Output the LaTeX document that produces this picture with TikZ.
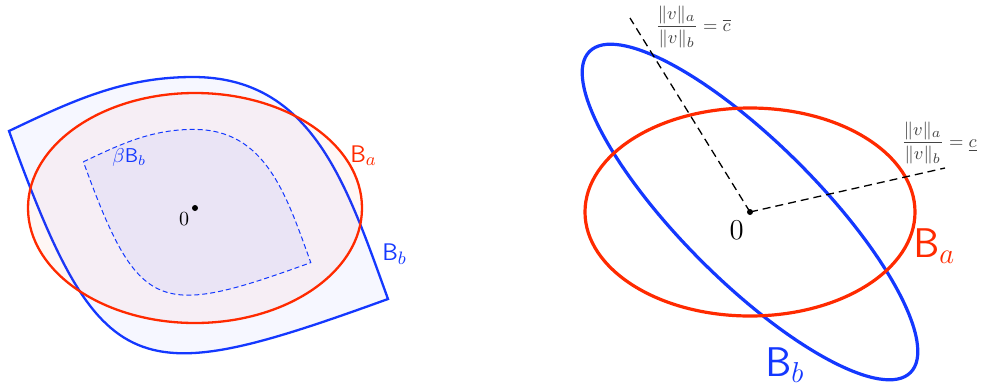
\documentclass[tikz,border=0pt]{standalone}
\usepackage{tikz}
\usetikzlibrary{positioning}
\definecolor{ballred}{HTML}{FF2A00}
\definecolor{ballblue}{HTML}{1438FF}
\definecolor{labelgray}{HTML}{444444}

% unit ball B_b, drawn round its own origin
\newcommand{\ballbpath}{(-186,77) .. controls (-123,107) and (-72,131) .. (-2,131)
  .. controls (118,131) and (152,22) .. (193,-91)
  .. controls (-61,-183) and (-94,-177) .. (-186,77) -- cycle}

\begin{document}
\begin{tikzpicture}[
  x=0.5pt, y=0.5pt,
  ballb/.style={draw=ballblue, line width=1.15pt},
  balla/.style={draw=ballred, line width=1.15pt},
  thickball/.style={line width=1.6pt},
  ray/.style={dash pattern=on 4pt off 2.5pt, line width=0.65pt},
  dot/.style={circle, fill=black, inner sep=0pt, minimum size=3pt},
  lbl/.style={inner sep=0pt, anchor=base west},
  smallsf/.style={font=\fontsize{13}{15}\selectfont},
  bigsf/.style={font=\fontsize{19.5}{23}\selectfont},
  ratio/.style={inner sep=0pt, anchor=west, text=labelgray, font=\fontsize{9.5}{11}\selectfont}
]
\useasboundingbox (0,0) rectangle (981,388);

% left: general norms
\begin{scope}[shift={(195,180)}]
  \path[ballb, fill=ballblue!4] \ballbpath;
\end{scope}
\draw[balla, fill=ballred, fill opacity=0.04] (195,180) ellipse [x radius=167, y radius=115];
\begin{scope}[shift={(195,180)}, scale=0.6]
  \path[draw=ballblue, line width=0.5pt, dash pattern=on 2.5pt off 1.5pt,
    fill=ballblue, fill opacity=0.05] \ballbpath;
\end{scope}
\node[dot] (o1) at (195,180) {};
\node[inner sep=0pt, below left=1pt and 1.5pt of o1] (zero1) {$0$};
\node[lbl, smallsf, text=ballred] (ba1) at (350,226) {$\mathsf{B}_a$};
\node[lbl, smallsf, text=ballblue] (bb1) at (382,128) {$\mathsf{B}_b$};
\node[lbl, text=ballblue] (beta) at (112,226) {$\beta\mathsf{B}_b$};

% right: two ellipses
\begin{scope}[shift={(750,176)}, rotate=-45]
  \draw[ballb, thickball] (0,0) ellipse [x radius=227, y radius=69];
\end{scope}
\draw[balla, thickball] (750,176) ellipse [x radius=165, y radius=104];
\node[dot] (o2) at (750,176) {};
\coordinate (cmax) at (630,370);
\coordinate (cmin) at (945,220);
\draw[ray] (o2.center) -- (cmax);
\draw[ray] (o2.center) -- (cmin);
\node[inner sep=0pt, font=\Large, below left=3.3pt and 1.8pt of o2] (zero2) {$0$};
\node[lbl, bigsf, text=ballred] (ba2) at (913,131) {$\mathsf{B}_a$};
\node[lbl, bigsf, text=ballblue] (bb2) at (765,12) {$\mathsf{B}_b$};
\node[ratio] (ubar) at (655,361) {$\displaystyle\frac{\|v\|_a}{\|v\|_b}=\overline{c}$};
\node[ratio] (ulow) at (901,245) {$\displaystyle\frac{\|v\|_a}{\|v\|_b}=\underline{c}$};
\end{tikzpicture}
\end{document}
